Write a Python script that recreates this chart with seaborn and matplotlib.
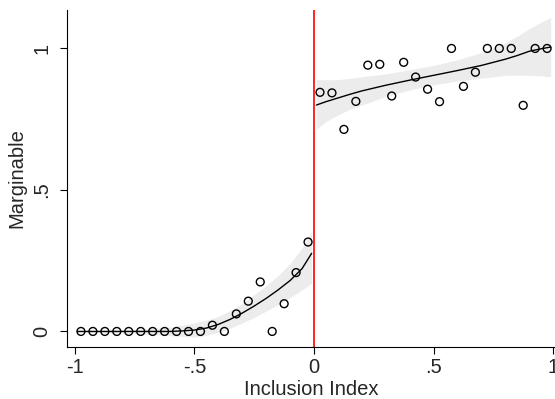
import numpy as np
import pandas as pd
import matplotlib
matplotlib.use('Agg')
import matplotlib.pyplot as plt
import seaborn as sns

# --- binned means ---
bin_x_left = [-0.975, -0.925, -0.875, -0.825, -0.775, -0.725, -0.675, -0.625, -0.575, -0.525,
              -0.475, -0.425, -0.375, -0.325, -0.275, -0.225, -0.175, -0.125, -0.075, -0.025]
bin_y_left = [0.0, 0.0, 0.0, 0.0, 0.0, 0.0, 0.0, 0.0, 0.0, 0.0,
              0.0, 0.022, 0.0, 0.062, 0.107, 0.175, 0.0, 0.098, 0.208, 0.316]

bin_x_right = [0.025, 0.075, 0.125, 0.175, 0.225, 0.275, 0.325, 0.375, 0.425, 0.475,
               0.525, 0.575, 0.625, 0.675, 0.725, 0.775, 0.825, 0.875, 0.925, 0.975]
bin_y_right = [0.845, 0.843, 0.714, 0.813, 0.941, 0.944, 0.832, 0.951, 0.899, 0.856,
               0.812, 1.0, 0.866, 0.916, 1.0, 1.0, 1.0, 0.799, 1.0, 1.0]

# --- fitted curves and confidence bands ---
fit_x_left = [-0.99, -0.9, -0.8, -0.7, -0.6, -0.55, -0.5, -0.45, -0.4, -0.35, -0.3,
              -0.25, -0.2, -0.15, -0.1, -0.05, -0.01]
fit_y_left = [0.0, 0.0, 0.0, 0.0, 0.0, 0.002, 0.005, 0.012, 0.025, 0.043, 0.065,
              0.09, 0.117, 0.147, 0.18, 0.222, 0.276]
ci_lo_left = [-0.003, -0.004, -0.006, -0.01, -0.015, -0.018, -0.02, -0.014, -0.003, 0.012, 0.03,
              0.05, 0.072, 0.095, 0.12, 0.147, 0.17]
ci_hi_left = [0.003, 0.004, 0.006, 0.01, 0.015, 0.022, 0.03, 0.04, 0.053, 0.074, 0.1,
              0.13, 0.162, 0.198, 0.24, 0.295, 0.355]

fit_x_right = [0.01, 0.05, 0.1, 0.15, 0.2, 0.3, 0.4, 0.5, 0.6, 0.7, 0.8, 0.85, 0.9, 0.95, 0.99]
fit_y_right = [0.80, 0.812, 0.825, 0.838, 0.85, 0.87, 0.888, 0.905, 0.922, 0.94, 0.962,
               0.975, 0.99, 0.999, 1.005]
ci_lo_right = [0.715, 0.742, 0.765, 0.785, 0.80, 0.83, 0.853, 0.872, 0.885, 0.895, 0.905,
               0.906, 0.905, 0.903, 0.90]
ci_hi_right = [0.89, 0.889, 0.89, 0.894, 0.90, 0.91, 0.925, 0.94, 0.96, 0.985, 1.02,
               1.043, 1.07, 1.093, 1.11]

x_ticks = [-1, -0.5, 0, 0.5, 1]
x_tick_labels = ['-1', '-.5', '0', '.5', '1']
y_ticks = [0, 0.5, 1]
y_tick_labels = ['0', '.5', '1']

sns.set_style('ticks')
plt.rcParams['font.family'] = ['Liberation Sans', 'DejaVu Sans']

bins = pd.DataFrame({'x': bin_x_left + bin_x_right, 'y': bin_y_left + bin_y_right})
fit_l = pd.DataFrame({'x': fit_x_left, 'y': fit_y_left})
fit_r = pd.DataFrame({'x': fit_x_right, 'y': fit_y_right})

fig = plt.figure(figsize=(5.55, 3.99), dpi=100)
ax = fig.add_axes([0.12, 0.131, 0.88, 0.844])

# confidence bands
ax.fill_between(fit_x_left, ci_lo_left, ci_hi_left, color='#ececec', lw=0, zorder=1)
ax.fill_between(fit_x_right, ci_lo_right, ci_hi_right, color='#ececec', lw=0, zorder=1)

# fitted lines
sns.lineplot(data=fit_l, x='x', y='y', color='black', lw=1.0, ax=ax, zorder=3)
sns.lineplot(data=fit_r, x='x', y='y', color='black', lw=1.0, ax=ax, zorder=3)

# binned means
sns.scatterplot(data=bins, x='x', y='y', marker='o', s=32, facecolors='none',
                edgecolor='black', linewidth=1.0, ax=ax, zorder=4)

# cutoff
ax.axvline(0, color='red', lw=1.2, zorder=2)

ax.set_xlim(-1.035, 1.008)
ax.set_ylim(-0.054, 1.136)
ax.set_xticks(x_ticks)
ax.set_xticklabels(x_tick_labels)
ax.set_yticks(y_ticks)
ax.set_yticklabels(y_tick_labels, rotation=90, va='center')
ax.tick_params(labelsize=14.5, length=5, width=0.8, color='black', pad=3)
ax.tick_params(axis='y', pad=6)
ax.set_xlabel('Inclusion Index', fontsize=14.5, labelpad=2)
ax.set_ylabel('Marginable', fontsize=14.5, labelpad=4)
for s in ['top', 'right']:
    ax.spines[s].set_visible(False)
for s in ['left', 'bottom']:
    ax.spines[s].set_linewidth(0.8)
    ax.spines[s].set_color('black')

fig.savefig('out.png', dpi=100)
